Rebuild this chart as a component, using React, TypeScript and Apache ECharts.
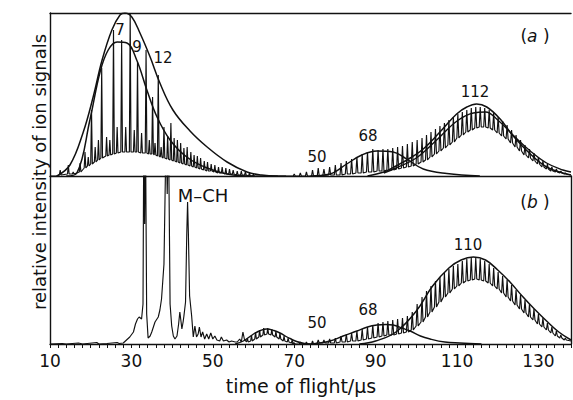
import React, { useEffect, useRef } from "react";
import * as echarts from "echarts";

const FONT = '"DejaVu Sans", "Liberation Sans", sans-serif';
const INK = "#111111";

// ---- axes ----
const xMin = 10;
const xMax = 138;
const xTickStep = 10;
const xLabelValues = [10, 30, 50, 70, 90, 110, 130];
const yMaxA = 163;
const yMaxB = 168;

// ---- panel (a): small clusters (time µs, spike top, valley level) ----
const specA_t = [12.5, 14.5, 15.7, 17.4, 18.6, 19.4, 20.2, 21.1, 21.9, 22.7, 23.9, 24.7, 25.6, 26.5, 27.6, 28.6, 29.7, 30.7, 31.5, 32.5, 33.6, 34.4, 35.2, 35.8, 36.6, 37.3, 38.0, 38.9, 39.7, 40.5, 41.3, 42.1, 42.9, 43.7, 44.6, 45.4, 46.2, 47.0, 47.9, 48.7, 49.6, 50.5, 51.4, 52.3, 53.2, 54.1, 55.0, 56.0, 57.0, 58.0, 59.0, 60.0];
const specA_top = [6, 11, 4, 13, 24, 19, 66, 29, 36, 108, 39, 36, 146, 49, 136, 49, 163, 46, 114, 43, 126, 36, 79, 33, 101, 29, 49, 40, 53, 38, 36, 33, 28, 29, 24, 21, 20, 18, 15, 14, 12, 11, 9, 9, 8, 7, 6, 5, 5, 4, 3, 2];
const specA_low = [1, 2, 2, 4, 8, 10, 12, 14, 16, 18, 20, 21, 22, 23, 24, 24, 24, 24, 24, 23, 23, 22, 22, 21, 20, 19, 18, 17, 16, 15, 14, 13, 12, 11, 10, 9, 8, 7, 6, 5, 5, 4, 3, 3, 2, 2, 2, 1, 1, 1, 0, 0];

const envA_outer = [[11.7, 0], [14.9, 11], [18.1, 43], [20.6, 79], [22.8, 116], [25.2, 146], [27.2, 161], [28.4, 163], [30.1, 159], [32.1, 143], [34.6, 119], [37, 93], [40.2, 66], [44.4, 45], [48.6, 29], [53.5, 14], [58.4, 4], [62, 1], [66, 0]];
const envA_inner = [[14, 0], [16.6, 3], [19.8, 56], [22.3, 104], [24.3, 126], [26.5, 134], [28.9, 133], [31.3, 116], [33.8, 86], [36.3, 59], [39.5, 36], [43.6, 19], [48.6, 8], [55, 1], [60, 0]];

// ---- large clusters comb (shared flight times) ----
const combT = [70.0, 71.5, 73.0, 74.5, 75.9, 77.3, 78.7, 80.1, 81.5, 82.8, 84.1, 85.4, 86.7, 88.0, 89.3, 90.6, 91.8, 93.0, 94.2, 95.4, 96.6, 97.8, 99.0, 100.2, 101.4, 102.5, 103.6, 104.7, 105.8, 106.9, 108.0, 109.1, 110.2, 111.3, 112.4, 113.5, 114.6, 115.7, 116.8, 117.9, 119.0, 120.1, 121.2, 122.3, 123.4, 124.5, 125.6, 126.7, 127.8, 128.9, 130.0, 131.1, 132.2, 133.3, 134.4, 135.5, 136.6];
const combA_top = [2, 3, 4, 6, 8, 7, 9, 11, 13, 15, 17, 19, 22, 24, 27, 26, 27, 27, 28, 29, 30, 32, 34, 36, 38, 41, 44, 47, 50, 53, 56, 59, 62, 64, 66, 68, 69, 69, 68, 66, 63, 59, 55, 51, 46, 41, 36, 31, 27, 23, 19, 15, 12, 9, 7, 5, 3];
const combA_low = [0, 0, 0, 0, 0, 1, 1, 1, 1, 2, 2, 3, 3, 4, 4, 5, 5, 6, 6, 7, 8, 9, 10, 12, 14, 16, 19, 22, 25, 28, 31, 34, 38, 41, 44, 46, 48, 49, 49, 48, 46, 43, 40, 37, 33, 29, 25, 21, 18, 15, 12, 9, 7, 5, 4, 3, 2];
const env68A = [[74, 0], [78.8, 2], [82.9, 12], [86.6, 21], [90.3, 25], [94.3, 24], [97.6, 17], [101.7, 7], [107.5, 2.5], [115.6, 0]];
const env112A = [[88, 0], [92, 4], [95, 10], [98.5, 18], [101.7, 27], [105.8, 44], [109.9, 62], [112.4, 69], [114.8, 72], [117.3, 69], [120.6, 57], [123.8, 40], [128, 22], [132, 9], [136, 3], [138, 1]];
const env112A2 = [[92, 3], [95, 8], [100, 18], [105, 36], [110, 55], [114, 63], [117, 64], [120, 56], [124, 40], [128, 25], [132, 13], [136, 6], [138, 4]];

// ---- panel (b) ----
const specB = [[10, 0], [13, 0.5], [14, 0], [17, 1], [18, 0], [21.5, 1.5], [22, 0], [24, 0.5], [26.5, 1.5], [27, 0.5], [28, 1], [28.8, 4], [29.6, 7], [30.5, 12], [31.0, 20], [31.5, 25], [31.9, 27], [32.5, 25], [32.85, 40], [33.05, 220], [33.25, 120], [33.45, 220], [33.75, 30], [34.1, 6], [34.6, 8], [35.0, 12], [35.8, 22], [36.6, 27], [37.0, 34], [37.4, 45], [38.0, 80], [38.55, 220], [38.8, 150], [39.1, 220], [39.5, 40], [39.9, 18], [40.3, 8], [40.7, 5], [41.2, 8], [41.6, 20], [41.9, 32], [42.2, 22], [42.4, 15], [42.7, 22], [42.9, 28], [43.3, 42], [43.6, 110], [43.8, 142], [44.0, 110], [44.3, 48], [44.8, 28], [45.2, 7], [45.6, 18], [46.0, 7], [46.4, 10], [46.7, 17], [47.1, 7], [47.5, 12], [48.0, 5], [48.5, 10], [49.0, 5], [49.5, 11], [50.0, 5], [50.5, 8], [51.0, 4], [51.7, 3], [52.1, 7], [52.6, 3], [53.4, 4], [54.0, 2], [54.6, 3], [55.5, 2], [56.0, 2], [56.6, 5], [57.0, 2], [57.4, 12], [57.8, 4]];
const humpB_t = [58.5, 59.5, 60.5, 61.5, 62.5, 63.5, 64.5, 65.5, 66.5, 67.5, 68.5, 69.5];
const humpB_top = [6, 9, 12, 14, 16, 16, 15, 13, 11, 8, 6, 4];
const humpB_low = [2, 3, 5, 7, 9, 10, 9, 7, 5, 3, 2, 1];
const envHumpB = [[55.5, 0], [57.5, 3], [60, 10], [61.7, 13.5], [63.3, 15], [65, 13.5], [66.5, 11], [68, 7.5], [69, 5.5], [70.6, 2.5], [72.5, 0.5], [74, 0]];
const combB_top = [1, 2, 2, 3, 4, 4, 5, 6, 8, 10, 11, 13, 15, 17, 19, 21, 22, 23, 24, 25, 26, 28, 32, 40, 47, 53, 58, 63, 67, 71, 75, 78, 80, 83, 85, 86, 86, 85, 83, 80, 76, 72, 68, 64, 59, 54, 49, 44, 40, 35, 30, 26, 21, 17, 13, 9, 6];
const combB_low = [0, 0, 0, 0, 1, 1, 1, 1, 2, 2, 3, 3, 4, 5, 6, 7, 8, 9, 9, 10, 11, 12, 14, 18, 22, 27, 32, 37, 42, 47, 51, 55, 58, 61, 63, 64, 65, 64, 63, 61, 58, 55, 51, 47, 43, 39, 35, 31, 27, 24, 20, 17, 14, 11, 8, 6, 4];
const env68B = [[74, 0], [78.8, 3], [82, 8], [85.4, 13], [88, 17], [90.3, 19], [92.5, 19.5], [94.3, 19], [96.5, 16], [98.5, 13], [101, 8], [103.4, 5], [107, 2], [110.7, 1], [116, 0]];
const env110B = [[86, 0], [90, 3], [95, 12], [100, 33], [104, 58], [108, 76], [111, 84], [114, 87], [117, 84], [120, 74], [123, 62], [126, 48], [129, 35], [132, 23], [135, 12], [138, 4]];

function spikeLine(t: number[], top: number[], low: number[], hw: number, start: number[][], end: number[][]) {
  const pts: number[][] = start.slice();
  for (let i = 0; i < t.length; i++) {
    pts.push([t[i] - hw, low[i]], [t[i], top[i]], [t[i] + hw, low[i]]);
  }
  return pts.concat(end);
}

function lineSeries(data: number[][], panel: number, opts: any = {}) {
  return {
    type: "line",
    data,
    xAxisIndex: panel === 0 ? 0 : 2,
    yAxisIndex: panel === 0 ? 0 : 1,
    showSymbol: false,
    symbol: "none",
    silent: true,
    clip: true,
    lineStyle: { color: INK, width: opts.width ?? 1.15 },
    smooth: opts.smooth ?? false,
    z: 3,
  };
}

function label(text: string, x: number, y: number, size = 15) {
  return {
    type: "text",
    x,
    y,
    silent: true,
    style: {
      text,
      font: `${size}px ${FONT}`,
      fill: INK,
      textAlign: "center",
      textVerticalAlign: "middle",
      verticalAlign: "middle",
    },
  };
}

function panelTag(letter: string, x: number, y: number) {
  return {
    type: "text",
    x,
    y,
    silent: true,
    style: {
      text: `{p|(}{i|${letter}}{p| )}`,
      textAlign: "center",
      textVerticalAlign: "middle",
      verticalAlign: "middle",
      rich: {
        p: { font: `17px ${FONT}`, fill: INK },
        i: { font: `italic 17px ${FONT}`, fill: INK },
      },
    },
  };
}

export default function App() {
  const ref = useRef<HTMLDivElement>(null);
  useEffect(() => {
    if (!ref.current) return;
    const chart = echarts.init(ref.current, undefined, { renderer: "svg" });
    const axisLine = { show: true, lineStyle: { color: INK, width: 1.4 } };
    const option: any = {
      animation: false,
      backgroundColor: "#ffffff",
      grid: [
        { left: 50, right: 2, top: 13, height: yMaxA },
        { left: 50, right: 2, top: 13 + yMaxA, height: yMaxB },
      ],
      xAxis: [
        { gridIndex: 0, type: "value", min: xMin, max: xMax, position: "bottom", axisLine, axisTick: { show: false }, axisLabel: { show: false }, splitLine: { show: false } },
        { gridIndex: 0, type: "value", min: xMin, max: xMax, position: "top", axisLine, axisTick: { show: false }, axisLabel: { show: false }, splitLine: { show: false } },
        {
          gridIndex: 1,
          type: "value",
          min: xMin,
          max: xMax,
          interval: xTickStep,
          position: "bottom",
          axisLine,
          axisTick: { show: true, length: 4, lineStyle: { color: INK, width: 1 } },
          minorTick: { show: true, splitNumber: 5, length: 4, lineStyle: { color: INK, width: 1 } },
          axisLabel: {
            show: true,
            margin: 8,
            color: INK,
            fontFamily: FONT,
            fontSize: 17,
            showMaxLabel: false,
            formatter: (v: number) => (xLabelValues.indexOf(Math.round(v)) >= 0 ? String(Math.round(v)) : ""),
          },
          splitLine: { show: false },
        },
      ],
      yAxis: [
        { gridIndex: 0, type: "value", min: 0, max: yMaxA, interval: yMaxA, axisLine, axisTick: { show: true, inside: true, length: 4, lineStyle: { color: INK } }, axisLabel: { show: false }, splitLine: { show: false } },
        { gridIndex: 1, type: "value", min: 0, max: yMaxB, interval: yMaxB, axisLine, axisTick: { show: true, inside: true, length: 4, lineStyle: { color: INK } }, axisLabel: { show: false }, splitLine: { show: false } },
        { gridIndex: 1, type: "value", min: 0, max: yMaxB, position: "right", axisLine, axisTick: { show: false }, axisLabel: { show: false }, splitLine: { show: false } },
      ],
      series: [
        lineSeries(spikeLine(specA_t, specA_top, specA_low, 0.2, [[10, 0], [11.5, 0]], [[61, 0], [68, 0]]), 0),
        lineSeries(envA_outer, 0, { smooth: 0.4, width: 1.5 }),
        lineSeries(envA_inner, 0, { smooth: 0.4, width: 1.5 }),
        lineSeries(spikeLine(combT, combA_top, combA_low, 0.25, [[66, 0]], [[138, 1]]), 0),
        lineSeries(env68A, 0, { smooth: 0.4, width: 1.4 }),
        lineSeries(env112A, 0, { smooth: 0.4, width: 1.5 }),
        lineSeries(env112A2, 0, { smooth: 0.4, width: 1.4 }),
        lineSeries(specB, 1),
        lineSeries(spikeLine(humpB_t, humpB_top, humpB_low, 0.2, [[57.8, 4], [58.1, 3]], [[70, 1]]), 1),
        lineSeries(envHumpB, 1, { smooth: 0.4, width: 1.4 }),
        lineSeries(spikeLine(combT, combB_top, combB_low, 0.25, [[69.5, 1]], [[138, 3]]), 1),
        lineSeries(env68B, 1, { smooth: 0.4, width: 1.4 }),
        lineSeries(env110B, 1, { smooth: 0.4, width: 1.5 }),
      ],
      graphic: [
        {
          type: "text",
          x: 39,
          y: 172,
          rotation: Math.PI / 2,
          silent: true,
          style: {
            text: "relative intensity of ion signals",
            font: `18px ${FONT}`,
            fill: INK,
            textAlign: "center",
            textVerticalAlign: "middle",
            verticalAlign: "middle",
          },
        },
        label("time of flight/µs", 301, 386, 19),
        label("7", 120, 30),
        label("9", 137, 47),
        label("12", 163, 58),
        label("50", 317, 157),
        label("68", 368, 136),
        label("112", 475, 92),
        label("50", 317, 323),
        label("68", 368, 310),
        label("110", 468, 245),
        label("M–CH", 203, 195, 18),
        panelTag("a", 535, 36),
        panelTag("b", 535, 202),
      ],
    };
    chart.setOption(option);
    return () => chart.dispose();
  }, []);
  return <div ref={ref} style={{ position: "fixed", left: 0, top: 0, width: 573, height: 400, background: "#fff" }} />;
}
